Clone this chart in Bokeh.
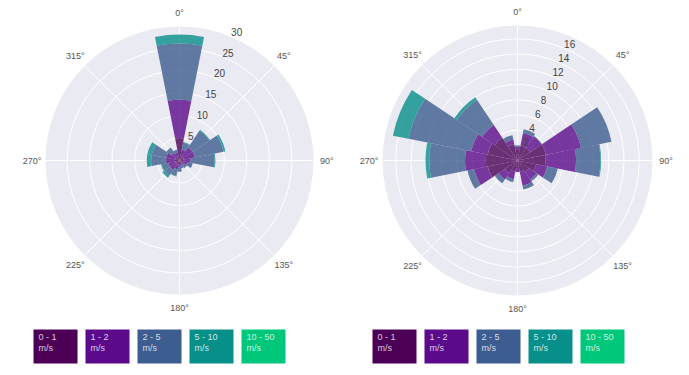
import numpy as np
from bokeh.plotting import figure
from bokeh.layouts import row
from bokeh.models import Range1d
from bokeh.core.properties import value
from bokeh.embed import file_html
from bokeh.resources import INLINE

# ---------------- data ----------------
directions = [0, 22.5, 45, 67.5, 90, 112.5, 135, 157.5,
              180, 202.5, 225, 247.5, 270, 292.5, 315, 337.5]
bin_labels = ["0 - 1", "1 - 2", "2 - 5", "5 - 10", "10 - 50"]
unit_label = "m/s"
bin_colors = ["#4b0055", "#5a0a8a", "#3d5c8f", "#078f89", "#00c77a"]
angle_ticks = [0, 45, 90, 135, 180, 225, 270, 315]

# left rose: frequency (%) per direction for each speed bin
left_0_1 = [5.0, 1.0, 1.0, 1.0, 0.8, 0.8, 0.6, 0.6, 0.8, 1.0, 1.0, 1.0, 1.0, 1.0, 0.8, 0.8]
left_1_2 = [8.5, 1.5, 2.5, 2.5, 1.7, 1.0, 0.6, 0.6, 0.7, 1.0, 1.5, 1.5, 2.0, 2.0, 1.2, 1.0]
left_2_5 = [12.5, 1.5, 4.5, 6.5, 5.3, 1.2, 0.8, 0.6, 1.0, 1.5, 1.5, 1.5, 3.3, 3.3, 1.5, 0.7]
left_5_10 = [2.0, 0.2, 0.2, 0.4, 0.2, 0.0, 0.0, 0.0, 0.0, 0.1, 0.6, 0.2, 1.0, 1.0, 0.0, 0.0]
left_10_50 = [0.0] * 16
left_ticks = [5, 10, 15, 20, 25, 30]
left_rmax = 29.8

# right rose
right_0_1 = [1.5, 2.0, 2.0, 3.8, 3.7, 2.5, 1.8, 1.5, 1.0, 1.5, 2.0, 4.0, 4.2, 4.0, 3.6, 2.2]
right_1_2 = [0.3, 1.7, 1.8, 4.7, 4.0, 1.5, 1.2, 1.9, 0.5, 1.0, 1.0, 1.8, 2.7, 2.2, 2.0, 0.6]
right_2_5 = [0.2, 0.5, 0.1, 4.1, 3.2, 1.4, 0.3, 0.5, 0.0, 0.4, 0.6, 0.9, 4.7, 8.4, 4.0, 0.6]
right_5_10 = [0.0, 0.0, 0.0, 0.0, 0.1, 0.0, 0.0, 0.0, 0.0, 0.0, 0.0, 0.0, 0.5, 2.1, 0.4, 0.0]
right_10_50 = [0.0] * 16
right_ticks = [2, 4, 6, 8, 10, 12, 14, 16]
right_rmax = 17.75

FONT = value("Liberation Sans")
BG = "#EAEAF2"


def make_rose(freqs, rmax, ticks, W, H, cx, cy, radius_px, page_x0, legend_x0):
    s = radius_px / rmax  # pixels per unit
    p = figure(width=W, height=H,
               x_range=Range1d(-cx / s, (W - cx) / s),
               y_range=Range1d(-(H - cy) / s, cy / s),
               toolbar_location=None, output_backend="svg",
               min_border=0, x_axis_location=None, y_axis_location=None)
    p.grid.visible = False
    p.outline_line_color = None
    p.background_fill_color = "white"
    p.border_fill_color = "white"

    def px(page_x):
        return (page_x - page_x0 - cx) / s

    def py(page_y):
        return (cy - page_y) / s

    # polar background
    p.circle(x=[0], y=[0], radius=[rmax], fill_color=BG, line_color=None)
    rings = [t for t in ticks if t < rmax]
    p.circle(x=[0] * len(rings), y=[0] * len(rings), radius=rings,
             fill_color=None, line_color="white", line_width=1.0)
    th = np.radians(angle_ticks)
    p.segment(x0=[0] * len(th), y0=[0] * len(th),
              x1=rmax * np.sin(th), y1=rmax * np.cos(th),
              line_color="white", line_width=1.0)

    # stacked bars
    d = np.radians(directions)
    half = np.radians(11.25)
    start = np.pi / 2 - d - half
    end = np.pi / 2 - d + half
    cum = np.zeros(len(directions))
    for k, f in enumerate(freqs):
        f = np.asarray(f, dtype=float)
        inner = cum.copy()
        cum = cum + f
        m = f > 0
        if m.any():
            p.annular_wedge(x=0, y=0, inner_radius=inner[m], outer_radius=cum[m],
                            start_angle=start[m], end_angle=end[m],
                            fill_color=bin_colors[k], fill_alpha=0.8,
                            line_color=bin_colors[k], line_alpha=0.0)

    # angle labels
    rl = rmax * 1.1
    p.text(x=rl * np.sin(th), y=rl * np.cos(th),
           text=[f"{a}°" for a in angle_ticks],
           text_font=FONT, text_font_size="9px", text_color="#555555",
           text_align="center", text_baseline="middle")

    # radial tick labels
    ta = np.radians(22.5)
    tv = np.asarray(ticks, dtype=float)
    p.text(x=tv * np.sin(ta), y=tv * np.cos(ta), text=[str(t) for t in ticks],
           text_font=FONT, text_font_size="10px", text_color="#444444",
           text_align="left", text_baseline="bottom")

    # legend boxes
    bw, bh, step, top = 44, 34, 52, 329
    lefts = [legend_x0 + step * i for i in range(len(bin_labels))]
    p.quad(left=[px(l) for l in lefts], right=[px(l + bw) for l in lefts],
           top=[py(top)] * len(lefts), bottom=[py(top + bh)] * len(lefts),
           fill_color=bin_colors, line_color=None)
    p.text(x=[px(l + 5) for l in lefts], y=[py(top + 7)] * len(lefts),
           text=bin_labels, text_font=FONT, text_font_size="9px",
           text_color="white", text_alpha=0.8, text_baseline="middle")
    p.text(x=[px(l + 5) for l in lefts], y=[py(top + 18.5)] * len(lefts),
           text=[unit_label] * len(lefts), text_font=FONT, text_font_size="9px",
           text_color="white", text_alpha=0.8, text_baseline="middle")
    return p


left_freqs = [left_0_1, left_1_2, left_2_5, left_5_10, left_10_50]
right_freqs = [right_0_1, right_1_2, right_2_5, right_5_10, right_10_50]

p1 = make_rose(left_freqs, left_rmax, left_ticks, W=345, H=367,
               cx=179, cy=160, radius_px=134, page_x0=0, legend_x0=33)
p2 = make_rose(right_freqs, right_rmax, right_ticks, W=336, H=367,
               cx=517 - 345, cy=160, radius_px=135, page_x0=345, legend_x0=372)

layout = row(p1, p2)
open("out.html", "w").write(file_html(layout, INLINE))
